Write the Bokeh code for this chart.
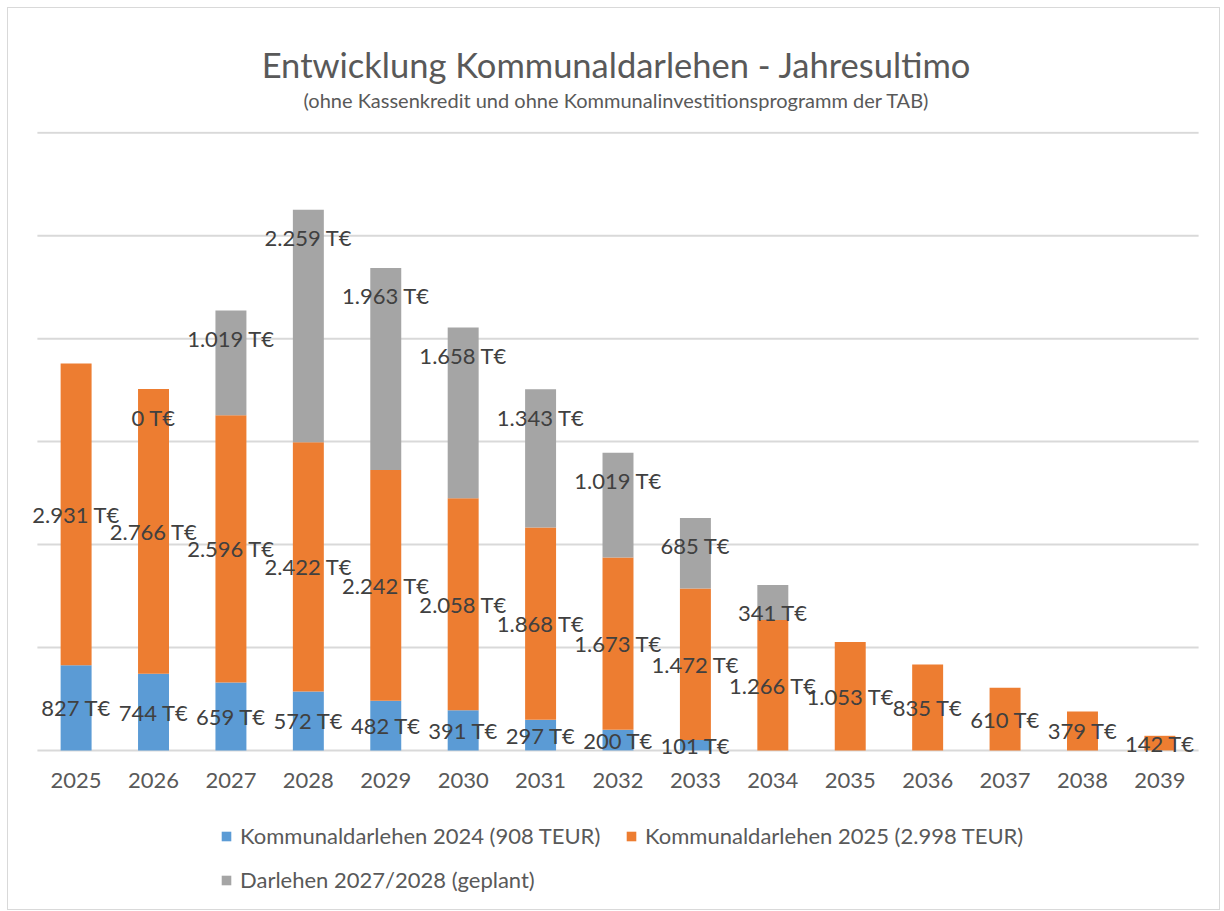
from bokeh.plotting import figure
from bokeh.layouts import column
from bokeh.models import (ColumnDataSource, FactorRange, Range1d,
                          Legend, LegendItem, Label)
from bokeh.core.properties import value
from bokeh.embed import file_html
from bokeh.resources import INLINE

# ---------------- data ----------------
years = [str(y) for y in range(2025, 2040)]
kd2024 = [827, 744, 659, 572, 482, 391, 297, 200, 101, None, None, None, None, None, None]
kd2025 = [2931, 2766, 2596, 2422, 2242, 2058, 1868, 1673, 1472, 1266, 1053, 835, 610, 379, 142]
dl2728 = [None, 0, 1019, 2259, 1963, 1658, 1343, 1019, 685, 341, None, None, None, None, None]
series_names = ["Kommunaldarlehen 2024 (908 TEUR)",
                "Kommunaldarlehen 2025 (2.998 TEUR)",
                "Darlehen 2027/2028 (geplant)"]
series_colors = ["#5B9BD5", "#ED7D31", "#A5A5A5"]
y_ticks = [0, 1000, 2000, 3000, 4000, 5000, 6000]
title_text = "Entwicklung Kommunaldarlehen - Jahresultimo"
subtitle_text = "(ohne Kassenkredit und ohne Kommunalinvestitionsprogramm der TAB)"

FONT = "Lato"
TXT = "#404040"
AX = "#595959"
GRID = "#D9D9D9"
W = 1211


def z(v):
    return 0 if v is None else v


def fmt(v):
    return f"{v:,}".replace(",", ".") + " T€"


def bare(fig):
    fig.axis.visible = False
    fig.grid.visible = False
    fig.outline_line_color = None
    fig.background_fill_color = "white"
    fig.border_fill_color = "white"


keys = ["a", "b", "c"]
src = ColumnDataSource(dict(years=years,
                            a=[z(v) for v in kd2024],
                            b=[z(v) for v in kd2025],
                            c=[z(v) for v in dl2728]))

# ---------------- title strip ----------------
t = figure(x_range=Range1d(0, W), y_range=Range1d(0, 123), width=W, height=123,
           output_backend="svg", toolbar_location=None,
           min_border_left=0, min_border_right=0, min_border_top=0, min_border_bottom=0)
bare(t)
t.add_layout(Label(x=604, y=67, text=title_text, text_font=FONT, text_font_size="34.5px",
                   text_color=AX, text_align="center", text_baseline="middle"))
t.add_layout(Label(x=604, y=32, text=subtitle_text, text_font=FONT, text_font_size="20px",
                   text_color=AX, text_align="center", text_baseline="middle"))

# ---------------- main chart ----------------
xr = FactorRange(*years, range_padding=0.27, range_padding_units="absolute")
p = figure(x_range=xr, y_range=Range1d(-195, 6012),
           width=W, height=677, output_backend="svg", toolbar_location=None,
           min_border_left=8, min_border_right=0, min_border_top=0,
           min_border_bottom=38)
p.outline_line_color = None
p.background_fill_color = "white"
p.border_fill_color = "white"
p.grid.visible = False

# horizontal gridlines spanning the category block only
p.segment(x0=[0] * len(y_ticks), x1=[len(years)] * len(y_ticks), y0=y_ticks, y1=y_ticks,
          line_color=GRID, line_width=2)

rs = p.vbar_stack(keys, x="years", width=0.4, color=series_colors, source=src,
                  line_color=None)

lab_x, lab_y, lab_t, lab_off = [], [], [], []
for i, yr in enumerate(years):
    b0 = z(kd2024[i])
    b1 = b0 + z(kd2025[i])
    if kd2024[i] is not None:
        lab_x.append(yr); lab_y.append(b0 / 2); lab_t.append(fmt(kd2024[i])); lab_off.append(0)
    if kd2025[i] is not None:
        lab_x.append(yr); lab_y.append(b0 + kd2025[i] / 2); lab_t.append(fmt(kd2025[i])); lab_off.append(0)
    if dl2728[i] is not None:
        lab_x.append(yr); lab_y.append(b1 + dl2728[i]); lab_t.append(fmt(dl2728[i])); lab_off.append(28)
lsrc = ColumnDataSource(dict(x=lab_x, y=lab_y, t=lab_t, off=lab_off))
p.text(x="x", y="y", text="t", y_offset="off", source=lsrc,
       text_font=value(FONT), text_font_size="22px", text_color=TXT,
       text_align="center", text_baseline="middle")

p.yaxis.visible = False
p.xaxis.axis_line_color = None
p.xaxis.major_tick_line_color = None
p.xaxis.minor_tick_line_color = None
p.xaxis.major_tick_out = 0
p.xaxis.major_label_standoff = 2
p.xaxis.major_label_text_font = FONT
p.xaxis.major_label_text_font_size = "22px"
p.xaxis.major_label_text_color = AX

# ---------------- legend strip ----------------
q = figure(x_range=FactorRange(*years), y_range=Range1d(0, 6000),
           width=W, height=101, output_backend="svg", toolbar_location=None,
           min_border_left=0, min_border_right=0, min_border_top=0, min_border_bottom=0)
bare(q)
# zero-width proxies: they carry the series styling for the legend only
proxy = q.vbar_stack(keys, x="years", width=0, color=series_colors, source=src,
                     line_color=None)
legend = Legend(items=[LegendItem(label=n, renderers=[r]) for n, r in zip(series_names, proxy)],
                ncols=2, location=(204, 16), orientation="horizontal",
                label_text_font=FONT, label_text_font_size="22px", label_text_color=AX,
                glyph_width=12, glyph_height=12, label_standoff=8, spacing=17,
                label_width=368, label_height=26,
                border_line_color=None, background_fill_alpha=0, margin=0, padding=0)
q.add_layout(legend)

layout = column(t, p, q, spacing=0,
                styles={"border": "1px solid #D9D9D9", "margin": "7px 0 0 7px"})

open("out.html", "w").write(file_html(layout, INLINE))
